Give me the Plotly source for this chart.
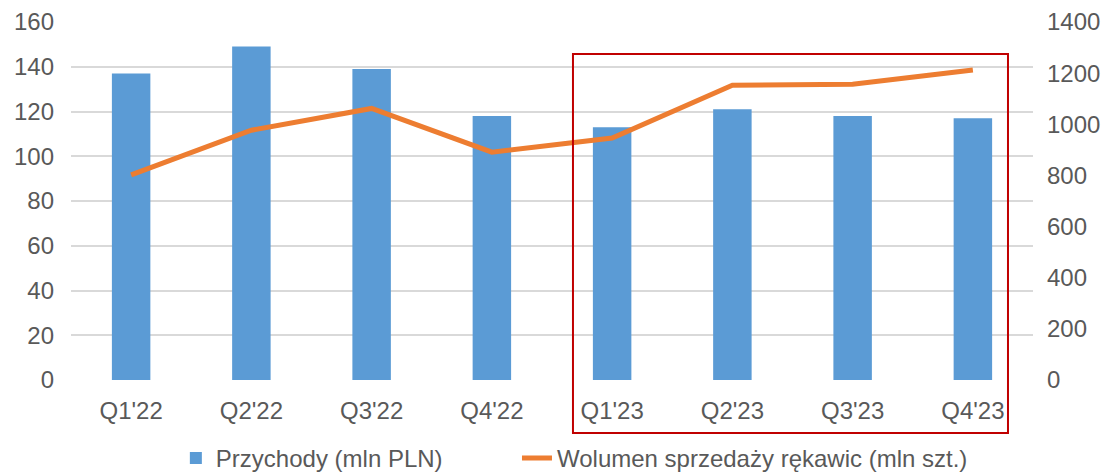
import plotly.graph_objects as go

categories = ["Q1'22", "Q2'22", "Q3'22", "Q4'22", "Q1'23", "Q2'23", "Q3'23", "Q4'23"]
revenue = [137, 149, 139, 118, 113, 121, 118, 117]
volume = [802, 977, 1062, 891, 946, 1153, 1157, 1212]
left_ticks = [0, 20, 40, 60, 80, 100, 120, 140, 160]
right_ticks = [0, 200, 400, 600, 800, 1000, 1200, 1400]

FONT = "Liberation Sans, Arial, sans-serif"
GREY = "#595959"
FS = 24

fig = go.Figure()
fig.add_trace(go.Bar(
    x=categories, y=revenue, name="Przychody (mln PLN)",
    marker=dict(color="#5B9BD5", line=dict(width=0)), yaxis="y", legend="legend",
))
fig.add_trace(go.Scatter(
    x=categories, y=volume, name="Wolumen sprzedaży rękawic (mln szt.)",
    mode="lines", line=dict(color="#ED7D31", width=5), yaxis="y2", legend="legend2",
))

leg_common = dict(orientation="h", xanchor="left", y=0.031, yanchor="middle",
                  yref="container", font=dict(size=FS, color=GREY),
                  bgcolor="rgba(0,0,0,0)")

fig.update_layout(
    width=1110, height=473,
    margin=dict(l=71, r=77, t=22, b=93, autoexpand=False),
    paper_bgcolor="white", plot_bgcolor="white",
    font=dict(family=FONT, size=FS, color=GREY),
    bargap=0.68,
    showlegend=True,
    legend=dict(x=0.109, **leg_common),
    legend2=dict(x=0.4636, **leg_common),
    xaxis=dict(showgrid=False, showline=False, ticks="", tickfont=dict(size=FS, color=GREY),
               ticklabelstandoff=14, automargin=False),
    yaxis=dict(range=[0, 160], tickvals=left_ticks, showgrid=True, gridcolor="#D9D9D9",
               gridwidth=1.5, zeroline=False, showline=False, ticks="",
               tickfont=dict(size=FS, color=GREY), ticklabelstandoff=16, automargin=False),
    yaxis2=dict(range=[0, 1400], tickvals=right_ticks, overlaying="y", side="right",
                showgrid=False, zeroline=False, showline=False, ticks="",
                tickfont=dict(size=FS, color=GREY), ticklabelstandoff=13, automargin=False),
    shapes=[dict(type="rect", xref="paper", yref="paper",
                 x0=0.5218, x1=0.974, y0=-0.148, y1=0.9106,
                 line=dict(color="#C00000", width=2), fillcolor="rgba(0,0,0,0)")],
)

fig.write_html("out.html", config={"displayModeBar": False},
               post_script="document.body.style.margin='0';document.body.style.overflow='hidden';")
